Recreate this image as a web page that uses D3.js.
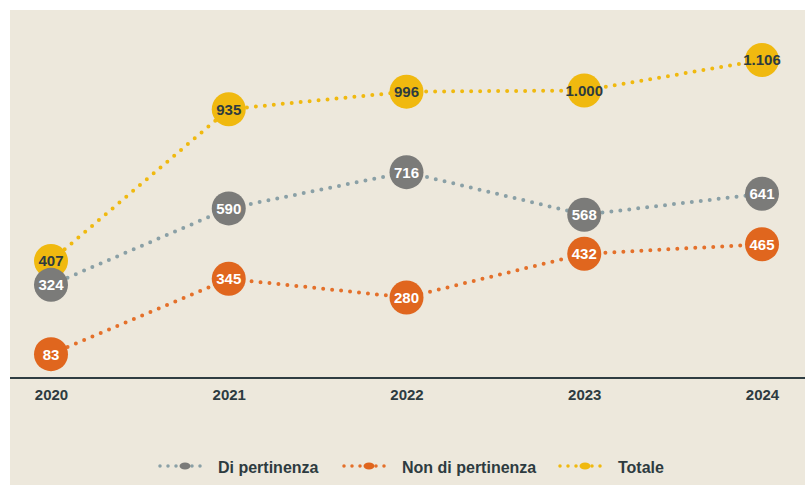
<!DOCTYPE html>
<html><head><meta charset="utf-8">
<script src="https://cdn.jsdelivr.net/npm/d3@7"></script>
<style>
html,body{margin:0;padding:0;background:#ffffff;}
svg{display:block;}
text{font-family:"Liberation Sans",Arial,sans-serif;font-weight:bold;}
</style></head>
<body>
<svg id="c" width="805" height="485"></svg>
<script>
const years = ["2020","2021","2022","2023","2024"];
const diPertinenza = [324, 590, 716, 568, 641];
const nonDiPertinenza = [83, 345, 280, 432, 465];
const totale = [407, 935, 996, 1000, 1106];
const valueLabels = {
  totale: ["407","935","996","1.000","1.106"],
  di: ["324","590","716","568","641"],
  non: ["83","345","280","432","465"]
};
const legendLabels = ["Di pertinenza","Non di pertinenza","Totale"];

const svg = d3.select("#c");
svg.append("rect").attr("x",10).attr("y",10).attr("width",795).attr("height",475).attr("fill","#ede8dc");

const x = d3.scalePoint().domain(years).range([51, 762]);
const y = d3.scaleLinear().domain([0, 1280]).range([378, 10]);

const series = [
  {key:"totale", vals: totale, line:"#f0b90f", fill:"#f0b90f", text:"#2d3b40"},
  {key:"non", vals: nonDiPertinenza, line:"#e4702a", fill:"#e0661e", text:"#ffffff"},
  {key:"di", vals: diPertinenza, line:"#8aa0a6", fill:"#7b7b79", text:"#ffffff"}
];

// axis
const axisG = svg.append("g").attr("transform","translate(0,378)")
  .call(d3.axisBottom(x).tickSize(0).tickPadding(11));
axisG.select(".domain").remove();
axisG.append("line").attr("x1",10).attr("x2",805).attr("y1",0).attr("y2",0)
  .attr("stroke","#2f3d42").attr("stroke-width",2);
axisG.selectAll(".tick text").attr("font-size",15).attr("fill","#2d3b40")
  .attr("font-family","Liberation Sans, Arial, sans-serif").attr("font-weight","bold");

const line = d3.line().x((d,i)=>x(years[i])).y(d=>y(d));
series.forEach(s=>{
  svg.append("path").attr("d", line(s.vals)).attr("fill","none")
    .attr("stroke", s.line).attr("stroke-width",4).attr("stroke-linecap","round")
    .attr("stroke-dasharray","0,9");
});
series.forEach(s=>{
  const g = svg.append("g");
  s.vals.forEach((v,i)=>{
    g.append("circle").attr("cx",x(years[i])).attr("cy",y(v)).attr("r",17).attr("fill",s.fill);
    g.append("text").attr("x",x(years[i])).attr("y",y(v)).attr("dy","0.36em")
      .attr("text-anchor","middle").attr("font-size",15).attr("fill",s.text)
      .text(valueLabels[s.key][i]);
  });
});

// legend
const legend = [
  {label: legendLabels[0], color:"#8aa0a6", mark:"#7b7b79", x0:160},
  {label: legendLabels[1], color:"#e4702a", mark:"#e0661e", x0:344},
  {label: legendLabels[2], color:"#f0b90f", mark:"#f0b90f", x0:560}
];
legend.forEach(l=>{
  const g = svg.append("g").attr("transform",`translate(${l.x0},466)`);
  g.append("line").attr("x1",0).attr("x2",46).attr("y1",0).attr("y2",0)
    .attr("stroke",l.color).attr("stroke-width",3.5).attr("stroke-linecap","round").attr("stroke-dasharray","0,8");
  g.append("ellipse").attr("cx",25).attr("cy",0).attr("rx",5.5).attr("ry",3.5).attr("fill",l.mark);
  g.append("text").attr("x",58).attr("y",1).attr("dy","0.35em").attr("font-size",16).attr("fill","#2d3b40").text(l.label);
});
</script>
</body></html>
